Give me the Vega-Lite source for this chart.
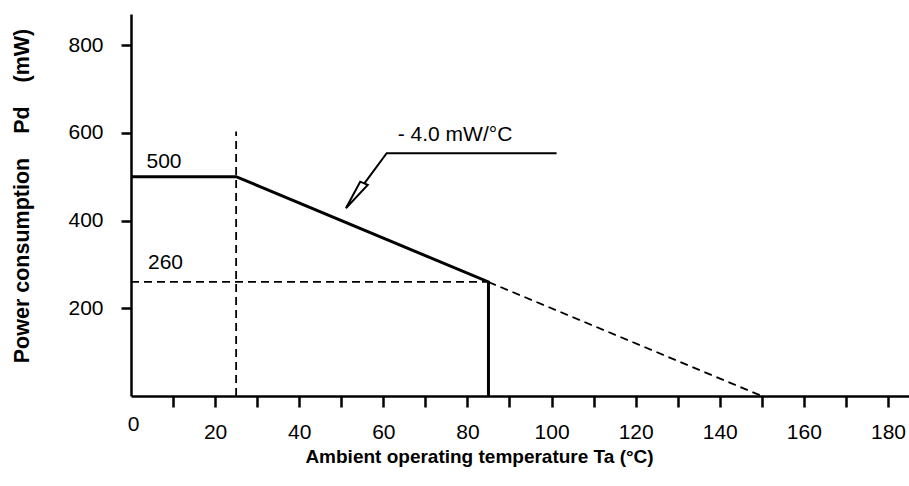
{
  "$schema": "https://vega.github.io/schema/vega-lite/v6.json",
  "autosize": "none",
  "width": 778,
  "height": 382,
  "padding": {"left": 131, "top": 14, "right": 0, "bottom": 90},
  "background": "white",
  "config": {"view": {"stroke": null}, "font": "Liberation Sans"},
  "datasets": {
    "solid": [
      {"x": 0, "y": 500, "o": 1},
      {"x": 25, "y": 500, "o": 2},
      {"x": 85, "y": 260, "o": 3},
      {"x": 85, "y": 0, "o": 4}
    ],
    "dashed": [
      {"seg": "a", "x": 25, "y": 0, "o": 1},
      {"seg": "a", "x": 25, "y": 603, "o": 2},
      {"seg": "b", "x": 0, "y": 260, "o": 1},
      {"seg": "b", "x": 85, "y": 260, "o": 2},
      {"seg": "c", "x": 85, "y": 260, "o": 1},
      {"seg": "c", "x": 150, "y": 0, "o": 2}
    ],
    "leader": [
      {"seg": "l", "x": 101.2, "y": 553.5, "o": 1},
      {"seg": "l", "x": 60.8, "y": 553.5, "o": 2},
      {"seg": "l", "x": 55.5, "y": 485, "o": 3},
      {"seg": "h", "x": 51.1, "y": 428, "o": 1},
      {"seg": "h", "x": 54.5, "y": 488.7, "o": 2},
      {"seg": "h", "x": 56.3, "y": 481.2, "o": 3},
      {"seg": "h", "x": 51.1, "y": 428, "o": 4}
    ],
    "labels": [
      {"x": 7.85, "y": 534, "text": "500"},
      {"x": 8.2, "y": 303, "text": "260"},
      {"x": 77.05, "y": 595, "text": "- 4.0 mW/°C"}
    ]
  },
  "encoding": {
    "x": {
      "field": "x",
      "type": "quantitative",
      "scale": {"domain": [0, 185], "nice": false, "zero": false},
      "axis": {
        "values": [0, 10, 20, 30, 40, 50, 60, 70, 80, 90, 100, 110, 120, 130, 140, 150, 160, 170, 180],
        "labelExpr": "datum.value % 20 === 0 ? datum.label : ''",
        "title": "Ambient operating temperature Ta (°C)",
        "titleX": 348,
        "grid": false,
        "tickSize": 11,
        "tickWidth": 2.5,
        "tickColor": "#000",
        "tickOpacity": {"condition": {"test": "datum.value === 0", "value": 0}, "value": 1},
        "domainWidth": 2.5,
        "domainColor": "#000",
        "labelFont": "Liberation Sans",
        "labelFontSize": 21,
        "labelColor": "#000",
        "labelPadding": {"condition": {"test": "datum.value === 0", "value": 6}, "value": 14},
        "labelOffset": {"condition": {"test": "datum.value === 0", "value": 2}, "value": 0},
        "labelFlush": false,
        "labelOverlap": false,
        "titleFont": "Liberation Sans",
        "titleFontSize": 19,
        "titleFontWeight": "bold",
        "titleColor": "#000",
        "titlePadding": 5,
        "encode": {
          "ticks": {"update": {"y": {"value": -5}}}
        }
      }
    },
    "y": {
      "field": "y",
      "type": "quantitative",
      "scale": {"domain": [0, 871], "nice": false},
      "axis": {
        "values": [200, 400, 600, 800],
        "title": "Power consumption\u00a0\u00a0\u00a0\u00a0Pd\u00a0\u00a0\u00a0\u00a0(mW)",
        "titleY": 181.5,
        "grid": false,
        "tickSize": 10,
        "tickWidth": 2.5,
        "tickColor": "#000",
        "domainWidth": 2.5,
        "domainColor": "#000",
        "labelFont": "Liberation Sans",
        "labelFontSize": 21,
        "labelColor": "#000",
        "labelPadding": 18,
        "titleFont": "Liberation Sans",
        "titleFontSize": 21.5,
        "titleFontWeight": "bold",
        "titleColor": "#000",
        "titlePadding": 34,
        "encode": {
          "ticks": {"update": {"x": {"value": 10}}}
        }
      }
    }
  },
  "layer": [
    {
      "data": {"name": "dashed"},
      "mark": {"type": "line", "color": "#000", "strokeWidth": 1.8, "strokeDash": [8, 5]},
      "encoding": {"detail": {"field": "seg"}, "order": {"field": "o"}}
    },
    {
      "data": {"name": "solid"},
      "mark": {"type": "line", "color": "#000", "strokeWidth": 3},
      "encoding": {"order": {"field": "o"}}
    },
    {
      "data": {"name": "leader"},
      "mark": {"type": "line", "color": "#000", "strokeWidth": 2},
      "encoding": {"detail": {"field": "seg"}, "order": {"field": "o"}}
    },
    {
      "data": {"name": "labels"},
      "mark": {"type": "text", "font": "Liberation Sans", "fontSize": 21, "color": "#000", "align": "center", "baseline": "middle"},
      "encoding": {"text": {"field": "text"}}
    }
  ]
}
